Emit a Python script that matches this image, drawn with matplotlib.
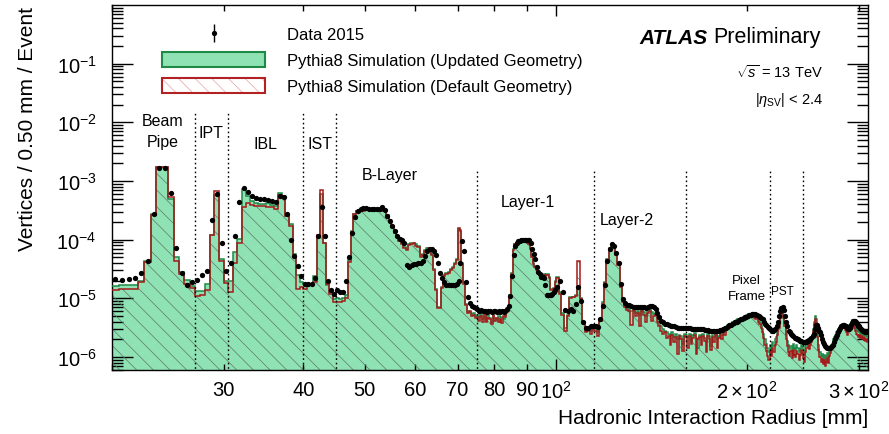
import numpy as np
import matplotlib.pyplot as plt
from matplotlib.patches import Patch
from matplotlib.lines import Line2D
from matplotlib.ticker import FixedLocator, FixedFormatter, LogLocator, NullFormatter

plt.rcParams['font.family'] = ['Liberation Sans', 'DejaVu Sans']
plt.rcParams['mathtext.fontset'] = 'custom'
plt.rcParams['mathtext.rm'] = 'Liberation Sans'
plt.rcParams['mathtext.it'] = 'Liberation Sans:italic'
plt.rcParams['mathtext.bf'] = 'Liberation Sans:bold'
plt.rcParams['hatch.linewidth'] = 0.5

# bin edges: 0.5 mm up to 100 mm, 1 mm above
edges_fine = np.arange(20.0, 100.0, 0.5)
edges_coarse = np.arange(100.0, 310.01, 1.0)

# log10(vertices / event), 20 - 100 mm
data_fine = [
    -4.67, -4.69, -4.67, -4.66, -4.57, -4.37, -3.57, -2.78, -2.78, -3.20, -4.15, -4.56, -4.77, -4.73, -4.69, -4.60, -4.53, -3.67, -3.22, -4.05,
    -4.54, -4.40, -3.93, -3.35, -3.12, -3.18, -3.26, -3.29, -3.30, -3.31, -3.32, -3.34, -3.35, -3.25, -3.27, -3.57, -4.01, -4.28, -4.45, -4.62,
    -4.76, -4.76, -4.75, -4.65, -3.93, -3.45, -3.94, -4.70, -4.85, -4.92, -4.86, -4.90, -4.89, -4.70, -4.30, -3.88, -3.62, -3.51, -3.47, -3.46,
    -3.46, -3.47, -3.47, -3.48, -3.48, -3.47, -3.45, -3.50, -3.59, -3.69, -3.77, -3.86, -3.94, -3.99, -4.00, -4.05, -4.43, -4.46, -4.44, -4.42,
    -4.41, -4.40, -4.39, -4.37, -4.28, -4.19, -4.16, -4.16, -4.19, -4.26, -4.39, -4.57, -4.66, -4.73, -4.77, -4.78, -4.78, -4.78, -4.78, -4.76,
    -4.70, -4.39, -4.03, -4.19, -4.73, -4.98, -5.08, -5.13, -5.15, -5.17, -5.19, -5.21, -5.20, -5.22, -5.21, -5.23, -5.22, -5.21, -5.23, -5.22,
    -5.22, -5.23, -5.22, -5.24, -5.22, -5.23, -5.21, -5.18, -5.13, -4.96, -4.62, -4.27, -4.10, -4.05, -4.03, -4.02, -4.01, -4.01, -4.01, -4.00,
    -4.01, -4.01, -4.05, -4.16, -4.25, -4.33, -4.47, -4.55, -4.59, -4.63, -4.64, -4.65, -4.77, -4.94, -4.95, -4.95, -4.94, -4.92, -4.90, -4.85,
]
updated_fine = [
    -4.79, -4.78, -4.78, -4.77, -4.70, -4.36, -3.56, -2.76, -2.76, -3.30, -4.30, -4.55, -4.68, -4.79, -4.87, -4.87, -4.76, -3.92, -3.24, -4.33,
    -4.70, -4.70, -4.21, -3.99, -3.14, -3.25, -3.34, -3.37, -3.39, -3.39, -3.38, -3.41, -3.42, -3.21, -3.25, -3.59, -3.73, -4.24, -4.61, -4.72,
    -4.76, -4.76, -4.77, -4.62, -3.95, -3.22, -4.05, -4.78, -4.90, -5.01, -5.00, -5.02, -5.00, -4.95, -4.35, -3.85, -3.56, -3.51, -3.50, -3.50,
    -3.49, -3.49, -3.49, -3.48, -3.48, -3.48, -3.47, -3.52, -3.58, -3.67, -3.76, -3.85, -3.94, -4.00, -4.05, -4.12, -4.16, -4.07, -4.06, -4.05,
    -4.08, -4.10, -4.27, -4.25, -4.18, -4.15, -4.14, -4.25, -4.50, -4.84, -5.15, -5.14, -4.80, -4.60, -4.56, -4.55, -4.50, -4.46, -4.40, -4.33,
    -3.82, -3.84, -4.40, -4.73, -5.10, -5.22, -5.24, -5.26, -5.25, -5.30, -5.28, -5.32, -5.27, -5.35, -5.30, -5.38, -5.29, -5.33, -5.40, -5.30,
    -5.33, -5.37, -5.30, -5.40, -5.32, -5.36, -5.28, -5.22, -5.20, -4.95, -4.56, -4.16, -4.08, -4.06, -4.05, -4.04, -4.04, -4.03, -4.04, -4.04,
    -4.04, -4.06, -4.15, -4.27, -4.40, -4.45, -4.50, -4.55, -4.59, -4.62, -4.60, -4.58, -4.60, -4.58, -4.58, -4.64, -4.84, -4.84, -4.82, -4.70,
]
default_fine = [
    -4.85, -4.84, -4.84, -4.84, -4.72, -4.38, -3.58, -2.76, -2.76, -3.28, -4.36, -4.58, -4.75, -4.83, -4.96, -4.94, -4.85, -3.92, -3.17, -4.36,
    -4.74, -4.89, -4.39, -4.05, -3.45, -3.38, -3.41, -3.43, -3.42, -3.42, -3.44, -3.45, -3.47, -3.24, -3.27, -3.60, -3.76, -4.28, -4.84, -4.80,
    -4.84, -4.76, -4.76, -4.72, -3.92, -3.15, -4.05, -4.75, -4.93, -5.06, -5.06, -5.07, -5.05, -5.00, -4.38, -3.87, -3.57, -3.52, -3.51, -3.51,
    -3.50, -3.50, -3.50, -3.49, -3.49, -3.49, -3.48, -3.52, -3.60, -3.69, -3.78, -3.88, -3.96, -4.02, -4.07, -4.15, -4.17, -4.09, -4.07, -4.06,
    -4.10, -4.12, -4.29, -4.26, -4.20, -4.17, -4.15, -4.27, -4.52, -4.86, -5.17, -5.16, -4.83, -4.62, -4.58, -4.56, -4.52, -4.48, -4.42, -4.35,
    -3.80, -3.86, -4.42, -4.75, -5.12, -5.25, -5.22, -5.30, -5.28, -5.34, -5.31, -5.38, -5.30, -5.41, -5.27, -5.41, -5.33, -5.36, -5.44, -5.28,
    -5.38, -5.33, -5.41, -5.35, -5.42, -5.30, -5.31, -5.24, -5.22, -4.97, -4.58, -4.17, -4.08, -4.05, -4.04, -4.03, -4.02, -4.03, -4.03, -4.04,
    -4.05, -4.07, -4.16, -4.29, -4.42, -4.47, -4.52, -4.57, -4.61, -4.64, -4.62, -4.60, -4.62, -4.60, -4.60, -4.66, -4.86, -4.86, -4.84, -4.72,
]

# log10(vertices / event), 100 - 310 mm
data_coarse = [
    -4.81, -4.70, -4.90, -5.20, -5.21, -5.18, -5.22, -5.10, -4.80, -5.05,
    -5.40, -5.50, -5.50, -5.48, -5.47, -5.48, -5.49, -5.35, -5.13, -4.78,
    -4.36, -4.16, -4.07, -4.10, -4.22, -4.40, -4.75, -5.02, -5.08, -5.11,
    -5.12, -5.13, -5.14, -5.14, -5.15, -5.15, -5.15, -5.15, -5.16, -5.15,
    -5.13, -5.13, -5.15, -5.18, -5.25, -5.32, -5.38, -5.41, -5.43, -5.44,
    -5.46, -5.47, -5.48, -5.48, -5.49, -5.50, -5.50, -5.50, -5.51, -5.51,
    -5.51, -5.51, -5.51, -5.52, -5.52, -5.52, -5.52, -5.52, -5.53, -5.53,
    -5.53, -5.54, -5.54, -5.54, -5.55, -5.55, -5.55, -5.55, -5.56, -5.55,
    -5.55, -5.54, -5.54, -5.52, -5.51, -5.50, -5.48, -5.46, -5.45, -5.44,
    -5.42, -5.41, -5.40, -5.38, -5.37, -5.36, -5.35, -5.33, -5.32, -5.31,
    -5.30, -5.29, -5.28, -5.27, -5.27, -5.27, -5.28, -5.29, -5.30, -5.31,
    -5.33, -5.36, -5.40, -5.43, -5.46, -5.49, -5.51, -5.53, -5.55, -5.55,
    -5.54, -5.52, -5.48, -5.40, -5.30, -5.22, -5.17, -5.15, -5.20, -5.30,
    -5.40, -5.48, -5.55, -5.58, -5.61, -5.63, -5.65, -5.67, -5.68, -5.69,
    -5.70, -5.71, -5.72, -5.73, -5.74, -5.75, -5.75, -5.74, -5.73, -5.72,
    -5.71, -5.70, -5.68, -5.64, -5.60, -5.52, -5.46, -5.45, -5.50, -5.55,
    -5.58, -5.63, -5.70, -5.75, -5.78, -5.81, -5.83, -5.84, -5.84, -5.84,
    -5.84, -5.83, -5.82, -5.79, -5.75, -5.70, -5.66, -5.62, -5.58, -5.54,
    -5.50, -5.48, -5.47, -5.46, -5.46, -5.47, -5.48, -5.50, -5.52, -5.52,
    -5.50, -5.46, -5.42, -5.39, -5.38, -5.39, -5.41, -5.44, -5.46, -5.47,
    -5.48, -5.50, -5.52, -5.54, -5.55, -5.56, -5.57, -5.58, -5.58, -5.58,
]
updated_coarse = [
    -4.64, -4.90, -5.25, -5.50, -5.28, -4.98, -4.97, -4.95, -4.80, -5.00,
    -5.40, -5.55, -5.52, -5.56, -5.50, -5.53, -5.58, -5.35, -5.07, -4.72,
    -4.33, -4.15, -4.07, -4.10, -4.25, -4.42, -4.78, -5.05, -5.12, -5.16,
    -5.18, -5.22, -5.19, -5.25, -5.21, -5.28, -5.20, -5.24, -5.30, -5.22,
    -5.19, -5.23, -5.27, -5.25, -5.33, -5.40, -5.47, -5.52, -5.55, -5.58,
    -5.60, -5.63, -5.58, -5.66, -5.61, -5.70, -5.62, -5.64, -5.78, -5.60,
    -5.62, -5.66, -5.60, -5.72, -5.63, -5.59, -5.68, -5.85, -5.62, -5.64,
    -5.61, -5.67, -5.74, -5.60, -5.65, -5.82, -5.63, -5.66, -5.60, -5.70,
    -5.64, -5.58, -5.62, -5.55, -5.57, -5.50, -5.47, -5.46, -5.44, -5.40,
    -5.42, -5.39, -5.37, -5.36, -5.38, -5.34, -5.33, -5.31, -5.30, -5.28,
    -5.30, -5.27, -5.26, -5.29, -5.27, -5.30, -5.33, -5.32, -5.36, -5.40,
    -5.45, -5.52, -5.60, -5.70, -5.78, -5.85, -5.92, -5.80, -5.88, -5.75,
    -5.82, -5.70, -5.66, -5.55, -5.45, -5.30, -5.22, -5.21, -5.30, -5.42,
    -5.60, -5.72, -5.80, -5.86, -5.82, -5.90, -5.78, -5.85, -5.88, -5.80,
    -5.84, -5.92, -5.86, -5.80, -5.83, -5.90, -5.95, -5.82, -5.76, -5.70,
    -5.80, -5.74, -5.70, -5.62, -5.52, -5.40, -5.30, -5.35, -5.60, -5.80,
    -5.92, -5.98, -5.95, -6.02, -5.96, -6.05, -5.98, -5.93, -6.00, -5.90,
    -5.86, -5.80, -5.78, -5.70, -5.66, -5.62, -5.58, -5.56, -5.52, -5.50,
    -5.47, -5.45, -5.44, -5.43, -5.45, -5.48, -5.52, -5.55, -5.50, -5.46,
    -5.43, -5.40, -5.38, -5.37, -5.40, -5.44, -5.48, -5.52, -5.55, -5.58,
    -5.56, -5.60, -5.58, -5.62, -5.60, -5.64, -5.62, -5.65, -5.63, -5.66,
]
default_coarse = [
    -4.66, -4.92, -5.28, -5.55, -5.30, -5.00, -4.98, -4.96, -4.36, -5.02,
    -5.42, -5.58, -5.55, -5.60, -5.52, -5.56, -5.65, -5.38, -5.09, -4.74,
    -4.35, -4.16, -4.08, -4.11, -4.26, -4.44, -4.80, -5.07, -5.15, -5.20,
    -5.22, -5.45, -5.20, -5.30, -5.25, -5.48, -5.22, -5.28, -5.40, -5.25,
    -5.22, -5.38, -5.30, -5.28, -5.40, -5.48, -5.55, -5.60, -5.58, -5.68,
    -5.65, -5.80, -5.62, -5.75, -5.66, -5.95, -5.65, -5.70, -5.90, -5.64,
    -5.66, -5.85, -5.64, -5.78, -5.68, -5.62, -5.95, -5.70, -5.66, -5.80,
    -5.65, -5.72, -5.92, -5.64, -5.70, -5.88, -5.66, -5.75, -5.63, -5.85,
    -5.68, -5.62, -5.70, -5.58, -5.62, -5.53, -5.52, -5.50, -5.48, -5.45,
    -5.45, -5.42, -5.40, -5.40, -5.41, -5.37, -5.36, -5.34, -5.33, -5.31,
    -5.32, -5.30, -5.29, -5.32, -5.30, -5.34, -5.36, -5.35, -5.40, -5.44,
    -5.50, -5.58, -5.68, -5.80, -5.90, -5.98, -6.05, -5.90, -5.99, -5.85,
    -5.92, -5.80, -5.74, -5.62, -5.50, -5.34, -5.24, -5.23, -5.34, -5.48,
    -5.70, -5.82, -5.92, -5.98, -5.90, -6.02, -5.88, -5.97, -6.00, -5.90,
    -5.95, -6.05, -5.96, -5.88, -5.94, -6.02, -6.08, -5.92, -5.85, -5.80,
    -5.86, -5.80, -5.75, -5.66, -5.56, -5.44, -5.36, -5.42, -5.66, -5.88,
    -6.00, -6.08, -6.04, -6.12, -6.05, -6.15, -6.08, -6.02, -6.10, -5.98,
    -5.94, -5.88, -5.85, -5.78, -5.72, -5.68, -5.64, -5.62, -5.58, -5.56,
    -5.52, -5.50, -5.50, -5.48, -5.50, -5.54, -5.58, -5.62, -5.56, -5.52,
    -5.48, -5.45, -5.43, -5.42, -5.46, -5.50, -5.55, -5.60, -5.62, -5.66,
    -5.62, -5.68, -5.64, -5.70, -5.66, -5.72, -5.68, -5.73, -5.70, -5.74,
]

# detector boundaries [mm] and how high their dotted lines reach
boundaries = [27.0, 30.5, 40.0, 45.0, 75.0, 115.0, 160.0, 217.0, 245.0]
boundary_tops = [1.5e-2, 1.5e-2, 1.5e-2, 1.5e-2, 1.6e-3, 1.6e-3, 1.6e-3, 1.6e-3, 1.6e-3]

# region name, x [mm], y, font size
regions = [
    ('Beam\nPipe', 24.0, 7.0e-3, 11.5),
    ('IPT', 28.6, 6.8e-3, 11.5),
    ('IBL', 34.9, 4.3e-3, 11.5),
    ('IST', 42.5, 4.3e-3, 11.5),
    ('B-Layer', 54.8, 1.3e-3, 11.5),
    ('Layer-1', 90.2, 4.4e-4, 11.5),
    ('Layer-2', 129.3, 2.2e-4, 11.5),
    ('Pixel\nFrame', 199.6, 1.5e-5, 9.5),
    ('PST', 227.5, 1.35e-5, 8.5),
]

edges = np.concatenate([edges_fine, edges_coarse])
centers = 0.5 * (edges[:-1] + edges[1:])
data = 10.0 ** np.array(data_fine + data_coarse)
updated = 10.0 ** np.array(updated_fine + updated_coarse)
default = 10.0 ** np.array(default_fine + default_coarse)

green_fill = '#8fe2b3'
green_line = '#1e8a46'
red_line = '#a51b1b'
hatch_col = '#60786a'

fig = plt.figure(figsize=(8.89, 4.35), dpi=100)
ax = fig.add_axes([112 / 889, 1 - 371 / 435, 756 / 889, 365 / 435])

ax.stairs(updated, edges, baseline=1e-9, fill=True, facecolor=green_fill,
          edgecolor='none', zorder=1)
ax.stairs(default, edges, baseline=1e-9, fill=True, facecolor='none',
          edgecolor=hatch_col, hatch='\\\\', linewidth=0, zorder=2)
ax.stairs(updated, edges, baseline=None, color=green_line, lw=1.1, zorder=3)
ax.stairs(default, edges, baseline=None, color=red_line, lw=1.1, zorder=4)
ax.plot(centers, data, 'o', color='black', ms=3.8, mew=0, zorder=6)

for xb, top in zip(boundaries, boundary_tops):
    ax.plot([xb, xb], [1e-9, top], color='black', lw=1.0,
            ls=(0, (1.2, 2.0)), zorder=5)

for name, xr, yr, fs in regions:
    ax.text(xr, yr, name, ha='center', va='center', fontsize=fs,
            linespacing=1.5, zorder=7)

ax.set_xscale('log')
ax.set_yscale('log')
ax.set_xlim(20, 310)
ax.set_ylim(6e-7, 1)

# x ticks: only 10^2 is a major tick, the rest are labelled minor ticks
ax.xaxis.set_major_locator(FixedLocator([100]))
ax.xaxis.set_major_formatter(FixedFormatter([r'$10^{2}$']))
x_minor = [20, 30, 40, 50, 60, 70, 80, 90, 200, 300]
x_minor_labels = ['', '30', '40', '50', '60', '70', '80', '90',
                  r'$2\times10^{2}$', r'$3\times10^{2}$']
ax.xaxis.set_minor_locator(FixedLocator(x_minor))
ax.xaxis.set_minor_formatter(FixedFormatter(x_minor_labels))

y_major = [1e-6, 1e-5, 1e-4, 1e-3, 1e-2, 1e-1]
ax.yaxis.set_major_locator(FixedLocator(y_major))
ax.yaxis.set_major_formatter(FixedFormatter(
    [r'$10^{-6}$', r'$10^{-5}$', r'$10^{-4}$', r'$10^{-3}$', r'$10^{-2}$', r'$10^{-1}$']))
ax.yaxis.set_minor_locator(LogLocator(base=10, subs=np.arange(2, 10), numticks=20))
ax.yaxis.set_minor_formatter(NullFormatter())

ax.tick_params(axis='both', which='both', direction='in', top=True, right=True,
               width=1.0, labelsize=14.5, colors='black')
ax.tick_params(axis='x', which='major', length=8, pad=7)
ax.tick_params(axis='x', which='minor', length=4, pad=7)
ax.tick_params(axis='y', which='major', length=15, pad=11)
ax.tick_params(axis='y', which='minor', length=8)
for sp in ax.spines.values():
    sp.set_linewidth(1.0)

fig.text(868 / 889, 1 - 419 / 435, 'Hadronic Interaction Radius [mm]',
         ha='right', va='center', fontsize=15)
fig.text(28 / 889, 1 - 7 / 435, 'Vertices / 0.50 mm / Event',
         ha='center', va='top', rotation=90, fontsize=15)

# legend
h_data = (Line2D([], [], ls='none', marker='|', ms=13, mew=1.0, color='black'),
          Line2D([], [], ls='none', marker='o', ms=3.8, mew=0, color='black'))
h_upd = Patch(facecolor=green_fill, edgecolor=green_line, lw=1.5)
h_def = (Patch(facecolor='white', edgecolor='#e6a3a3', hatch='\\\\', lw=0),
         Patch(facecolor='none', edgecolor='#b22222', lw=1.5))
ax.legend([h_data, h_upd, h_def],
          ['Data 2015', 'Pythia8 Simulation (Updated Geometry)',
           'Pythia8 Simulation (Default Geometry)'],
          loc='upper left', bbox_to_anchor=((162 - 112) / 756, 1 - (27 - 6) / 365),
          frameon=False, fontsize=12, handlelength=6.2, handleheight=1.0,
          labelspacing=0.58, handletextpad=1.3, borderpad=0, borderaxespad=0)

# experiment label
label_y = 1 - (38 - 6) / 365
ax.text((713 - 112) / 756, label_y, 'Preliminary', transform=ax.transAxes,
        ha='left', va='center', fontsize=15.5)
ax.text((708 - 112) / 756, label_y, 'ATLAS', transform=ax.transAxes,
        ha='right', va='center', fontsize=15, fontweight='bold', style='italic')
ax.text((823 - 112) / 756, 1 - (72 - 6) / 365, r'$\sqrt{s}$ = 13 TeV',
        transform=ax.transAxes, ha='right', va='center', fontsize=10.5)
ax.text((823 - 112) / 756, 1 - (100 - 6) / 365, r'|$\eta_{\mathrm{SV}}$| < 2.4',
        transform=ax.transAxes, ha='right', va='center', fontsize=10.5)

fig.savefig('out.png', dpi=100)
